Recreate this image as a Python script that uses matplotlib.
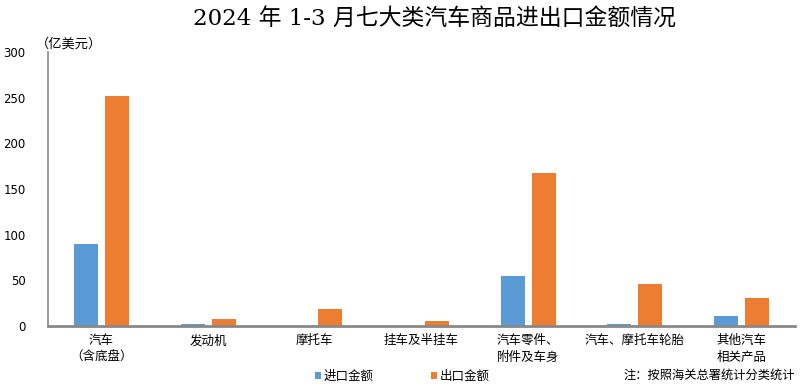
import numpy as np
import matplotlib.pyplot as plt

plt.rcParams['font.family'] = ['Noto Sans CJK SC', 'DejaVu Sans']

# categories and values (亿美元)
categories = ['汽车\n（含底盘）', '发动机', '摩托车', '挂车及半挂车',
              '汽车零件、\n附件及车身', '汽车、摩托车轮胎', '其他汽车\n相关产品']
imports = [90, 2, 0.3, 0.2, 55, 2, 11]
exports = [252, 8, 19, 5.5, 168, 46, 31]

fig = plt.figure(figsize=(8.07, 3.87), dpi=100)
ax = fig.add_axes([48/807, 1 - 326/387, 747/807, 274/387])

x = np.arange(len(categories))
w = 0.225
ax.bar(x - 0.145, imports, w, color='#5b9bd5', label='进口金额')
ax.bar(x + 0.145, exports, w, color='#ed7d31', label='出口金额')

ax.set_xlim(-0.5, len(categories) - 0.5)
ax.set_ylim(0, 300)
ax.set_yticks(range(0, 301, 50))
ax.set_xticks(x)
ax.set_xticklabels(categories, fontsize=9, linespacing=1.35)
ax.tick_params(axis='both', length=0, pad=6)
ax.tick_params(axis='y', labelsize=8.5, pad=16)
for lab in ax.get_yticklabels():
    lab.set_family(['DejaVu Sans'])

for s in ['top', 'right']:
    ax.spines[s].set_visible(False)
ax.spines['left'].set_color('#888888')
ax.spines['left'].set_linewidth(1.2)
ax.spines['bottom'].set_color('#888888')
ax.spines['bottom'].set_linewidth(2)

fig.text(435/807, 1 - 20/387, '2024 年 1-3 月七大类汽车商品进出口金额情况',
         ha='center', va='center', fontsize=16.5,
         family=['DejaVu Serif', 'Noto Sans CJK SC'])
fig.text(36/807, 1 - 44/387, '（亿美元）', ha='left', va='center', fontsize=9.5)

fig.legend(loc='center', bbox_to_anchor=(402/807, 1 - 376/387), ncol=2,
           frameon=False, fontsize=9, handlelength=0.5, handleheight=0.5,
           handletextpad=0.2, columnspacing=4.6)
fig.text(795/807, 1 - 375/387, '注：按照海关总署统计分类统计',
         ha='right', va='center', fontsize=8.8)

fig.savefig('out.png', dpi=100)
